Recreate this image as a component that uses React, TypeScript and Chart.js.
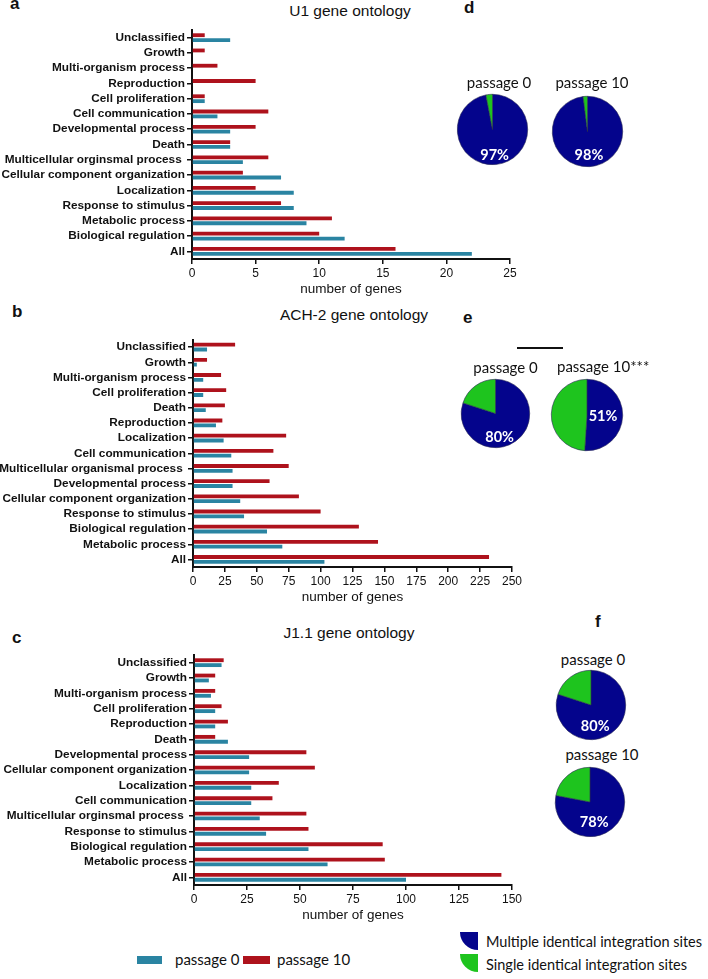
import React, { useEffect, useRef } from "react";
import { Chart, registerables } from "chart.js";

Chart.register(...registerables);

// ---------- DATA ----------
const aCategories = [
  "Unclassified", "Growth", "Multi-organism process", "Reproduction", "Cell proliferation",
  "Cell communication", "Developmental process", "Death", "Multicellular orginsmal process ",
  "Cellular component organization", "Localization", "Response to stimulus", "Metabolic process",
  "Biological regulation", "All",
];
const aPassage10 = [1, 1, 2, 5, 1, 6, 5, 3, 6, 4, 5, 7, 11, 10, 16];
const aPassage0 = [3, 0, 0, 0, 1, 2, 3, 3, 4, 7, 8, 8, 9, 12, 22];

const bCategories = [
  "Unclassified", "Growth", "Multi-organism process", "Cell proliferation", "Death",
  "Reproduction", "Localization", "Cell communication", "Multicellular organismal process ",
  "Developmental process", "Cellular component organization", "Response to stimulus",
  "Biological regulation", "Metabolic process", "All",
];
const bPassage10 = [33, 11, 22, 26, 25, 23, 73, 63, 75, 60, 83, 100, 130, 145, 232];
const bPassage0 = [11, 3, 8, 8, 10, 18, 24, 30, 31, 31, 37, 40, 58, 70, 103];

const cCategories = [
  "Unclassified", "Growth", "Multi-organism process", "Cell proliferation", "Reproduction",
  "Death", "Developmental process", "Cellular component organization", "Localization",
  "Cell communication", "Multicellular orginsmal process ", "Response to stimulus",
  "Biological regulation", "Metabolic process", "All",
];
const cPassage10 = [14, 10, 10, 13, 16, 10, 53, 57, 40, 37, 53, 54, 89, 90, 145];
const cPassage0 = [13, 7, 8, 10, 10, 16, 26, 26, 27, 27, 31, 34, 54, 63, 100];

const seriesNames = ["passage 0", "passage 10"];
const axisTitle = "number of genes";

const pieCategories = ["Multiple identical integration sites", "Single identical integration sites"];
const dPassage0 = [97, 3];
const dPassage10 = [98, 2];
const ePassage0 = [80, 20];
const ePassage10 = [51, 49];
const fPassage0 = [80, 20];
const fPassage10 = [78, 22];

// ---------- STYLE ----------
const TEAL = "#2a84a2";
const RED = "#ae121c";
const NAVY = "#04048c";
const GREEN = "#1ec41e";
const INK = "#111111";
const SANS = "'Liberation Sans', Arial, Helvetica, sans-serif";
const CAL = "Lato, 'Noto Sans', sans-serif";

type BarProps = {
  top: number; height: number; padTop: number; padRight: number;
  labels: string[]; p0: number[]; p10: number[]; max: number; step: number; axisW: number;
};

function BarPanel(props: BarProps) {
  const ref = useRef<HTMLCanvasElement>(null);
  useEffect(() => {
    const { labels, p0, p10, max, step, padTop, padRight, axisW } = props;
    const chart = new Chart(ref.current as HTMLCanvasElement, {
      type: "bar",
      data: {
        labels,
        datasets: [
          { label: seriesNames[1], data: p10, backgroundColor: RED, categoryPercentage: 0.64, barPercentage: 0.78 },
          { label: seriesNames[0], data: p0, backgroundColor: TEAL, categoryPercentage: 0.64, barPercentage: 0.78 },
        ],
      },
      options: {
        indexAxis: "y",
        animation: false,
        responsive: false,
        devicePixelRatio: 1,
        layout: { padding: { top: padTop, right: padRight, left: 0, bottom: 0 } },
        plugins: { legend: { display: false }, tooltip: { enabled: false }, title: { display: false } },
        scales: {
          x: {
            type: "linear",
            min: 0,
            max,
            ticks: { stepSize: step, font: { family: SANS, size: 12 }, color: INK, padding: 2 },
            grid: { display: true, drawOnChartArea: false, drawTicks: true, tickLength: 5, color: INK, lineWidth: 1.5 },
            border: { display: true, color: INK, width: 2 },
            title: { display: true, text: axisTitle, font: { family: SANS, size: 13.5 }, color: INK, padding: { top: 4, bottom: 4 } },
            afterFit: (s: any) => { s.height = 42; },
          },
          y: {
            type: "category",
            offset: true,
            ticks: { font: { family: SANS, size: 11.8, weight: "bold" }, color: INK, padding: 2, autoSkip: false },
            grid: { display: true, offset: false, drawOnChartArea: false, drawTicks: true, tickLength: 5, color: INK, lineWidth: 1.5 },
            border: { display: true, color: INK, width: 2 },
            afterFit: (s: any) => { s.width = axisW; },
          },
        },
      } as any,
    });
    return () => chart.destroy();
  }, []);
  return (
    <canvas ref={ref} width={530} height={props.height}
      style={{ position: "absolute", left: 0, top: props.top, width: 530, height: props.height }} />
  );
}

type PieProps = { cx: number; cy: number; r: number; data: number[]; dx: number; dy: number };

function PieChart({ cx, cy, r, data, dx, dy }: PieProps) {
  const ref = useRef<HTMLCanvasElement>(null);
  const size = Math.round(2 * r + 4);
  useEffect(() => {
    const pctPlugin = {
      id: "pct",
      afterDatasetsDraw(chart: any) {
        const arc = chart.getDatasetMeta(0).data[0];
        if (!arc) return;
        const ctx = chart.ctx;
        const rr = arc.outerRadius;
        ctx.save();
        ctx.fillStyle = "#ffffff";
        ctx.font = `bold 14.5px ${CAL}`;
        ctx.textAlign = "center";
        ctx.textBaseline = "middle";
        ctx.fillText(`${data[0]}%`, arc.x + dx * rr, arc.y + dy * rr);
        ctx.restore();
      },
    };
    const chart = new Chart(ref.current as HTMLCanvasElement, {
      type: "pie",
      data: {
        labels: pieCategories,
        datasets: [{ data, backgroundColor: [NAVY, GREEN], borderColor: "#2a2a55", borderWidth: 0.6 }],
      },
      options: {
        animation: false,
        responsive: false,
        devicePixelRatio: 1,
        layout: { padding: 2 },
        plugins: { legend: { display: false }, tooltip: { enabled: false } },
      } as any,
      plugins: [pctPlugin],
    });
    return () => chart.destroy();
  }, []);
  return (
    <canvas ref={ref} width={size} height={size}
      style={{ position: "absolute", left: cx - size / 2, top: cy - size / 2, width: size, height: size }} />
  );
}

type TProps = { x: number; y: number; text: string; size: number; font?: string; weight?: string; center?: boolean; color?: string };

function T({ x, y, text, size, font = SANS, weight = "normal", center = false, color = INK }: TProps) {
  const f = font === CAL ? 0.887 : 0.847;
  return (
    <div style={{
      position: "absolute", left: x, top: y - f * size, fontFamily: font, fontSize: size, lineHeight: `${size}px`,
      fontWeight: weight as any, color, whiteSpace: "nowrap", transform: center ? "translateX(-50%)" : undefined,
    }}>{text}</div>
  );
}

export default function App() {
  return (
    <div style={{ position: "absolute", left: 0, top: 0, width: 708, height: 979, background: "#fff", overflow: "hidden" }}>
      {/* panel letters */}
      <T x={10} y={9} text="a" size={17} weight="bold" />
      <T x={12} y={317} text="b" size={17} weight="bold" />
      <T x={12} y={643} text="c" size={17} weight="bold" />
      <T x={464} y={13} text="d" size={17} weight="bold" />
      <T x={463} y={323} text="e" size={17} weight="bold" />
      <T x={595} y={627} text="f" size={17} weight="bold" />

      {/* titles */}
      <T x={350} y={16} text="U1 gene ontology" size={15.5} center />
      <T x={354} y={320} text="ACH-2 gene ontology" size={15.5} center />
      <T x={349} y={638} text="J1.1 gene ontology" size={15.5} center />

      <BarPanel top={0} height={301} padTop={30} padRight={20} axisW={192}
        labels={aCategories} p0={aPassage0} p10={aPassage10} max={25} step={5} />
      <BarPanel top={305} height={304} padTop={34.5} padRight={18} axisW={193}
        labels={bCategories} p0={bPassage0} p10={bPassage10} max={250} step={25} />
      <BarPanel top={612} height={315} padTop={43} padRight={18} axisW={194}
        labels={cCategories} p0={cPassage0} p10={cPassage10} max={150} step={25} />

      {/* d */}
      <T x={499} y={88} text="passage 0" size={15} font={CAL} center />
      <T x={592} y={88} text="passage 10" size={15} font={CAL} center />
      <PieChart cx={492} cy={129} r={35.5} data={dPassage0} dx={0.06} dy={0.74} />
      <PieChart cx={587.5} cy={131} r={35.5} data={dPassage10} dx={0.04} dy={0.68} />

      {/* e */}
      <div style={{ position: "absolute", left: 517, top: 347, width: 46, height: 2, background: INK }} />
      <T x={505.5} y={373} text="passage 0" size={15} font={CAL} center />
      <T x={557} y={372} text="passage 10***" size={15} font={CAL} />
      <PieChart cx={495.5} cy={413} r={34.5} data={ePassage0} dx={0.12} dy={0.7} />
      <PieChart cx={587} cy={415} r={36} data={ePassage10} dx={0.45} dy={0.05} />

      {/* f */}
      <T x={593} y={665} text="passage 0" size={15} font={CAL} center />
      <PieChart cx={591} cy={705} r={35} data={fPassage0} dx={0.12} dy={0.62} />
      <T x={602} y={760} text="passage 10" size={15} font={CAL} center />
      <PieChart cx={590} cy={802} r={35} data={fPassage10} dx={0.12} dy={0.58} />

      {/* bar legend */}
      <div style={{ position: "absolute", left: 137, top: 956, width: 25, height: 8, background: TEAL }} />
      <T x={175} y={965} text={seriesNames[0]} size={15} font={CAL} />
      <div style={{ position: "absolute", left: 243, top: 956, width: 27, height: 8, background: RED }} />
      <T x={277} y={965} text={seriesNames[1]} size={15} font={CAL} />

      {/* pie legend */}
      <div style={{ position: "absolute", left: 460, top: 932, width: 18, height: 18, background: NAVY, borderBottomLeftRadius: "100%" }} />
      <T x={486} y={948} text={pieCategories[0]} size={14.5} font={CAL} />
      <div style={{ position: "absolute", left: 460, top: 954, width: 18, height: 18, background: GREEN, borderBottomLeftRadius: "100%" }} />
      <T x={486} y={971} text={pieCategories[1]} size={14.5} font={CAL} />
    </div>
  );
}
